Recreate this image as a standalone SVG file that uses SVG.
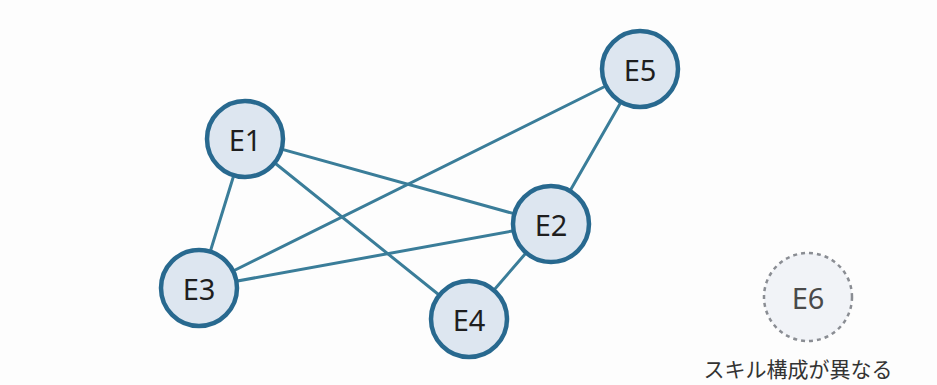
<svg xmlns="http://www.w3.org/2000/svg" width="937" height="385" viewBox="0 0 937 385">
  <style>
    .edge { stroke: #3a7d99; stroke-width: 3; stroke-linecap: round; fill: none; }
    .node circle { fill: #dde6f0; stroke: #28698f; stroke-width: 4.5; }
    .node text { font-family: "Noto Sans", "Open Sans", sans-serif; font-size: 29px; fill: #1e1e1e; text-anchor: middle; dominant-baseline: central; }
    .ghost circle { fill: #f1f3f7; stroke: #8a8d93; stroke-width: 2.5; stroke-dasharray: 4 4; }
    .ghost text { font-family: "Noto Sans", "Open Sans", sans-serif; font-size: 29px; fill: #4a4a4a; text-anchor: middle; dominant-baseline: central; }
    .caption { font-family: "Noto Sans CJK JP", sans-serif; font-size: 21px; fill: #333; text-anchor: middle; }
  </style>
  <rect width="937" height="385" fill="#fdfdfd"/>

  <!-- links between team members -->
  <g id="connectors">
    <line class="edge" x1="245" y1="139" x2="551" y2="224"/>
    <line class="edge" x1="245" y1="139" x2="199" y2="288"/>
    <line class="edge" x1="245" y1="139" x2="469" y2="319"/>
    <line class="edge" x1="199" y1="288" x2="640" y2="69"/>
    <line class="edge" x1="199" y1="288" x2="551" y2="224"/>
    <line class="edge" x1="551" y1="224" x2="640" y2="69"/>
    <line class="edge" x1="551" y1="224" x2="469" y2="319"/>
  </g>

  <g id="E1" class="node"><circle cx="245" cy="139" r="38"/><text x="245" y="139">E1</text></g>
  <g id="E5" class="node"><circle cx="640" cy="69" r="38"/><text x="640" y="69">E5</text></g>
  <g id="E2" class="node"><circle cx="551" cy="224" r="38"/><text x="551" y="224">E2</text></g>
  <g id="E3" class="node"><circle cx="199" cy="288" r="38"/><text x="199" y="288">E3</text></g>
  <g id="E4" class="node"><circle cx="469" cy="319" r="38"/><text x="469" y="319">E4</text></g>

  <!-- isolated member -->
  <g id="E6" class="ghost"><circle cx="808" cy="297" r="44"/><text x="808" y="297">E6</text></g>
  <text class="caption" x="798" y="377">スキル構成が異なる</text>
</svg>
